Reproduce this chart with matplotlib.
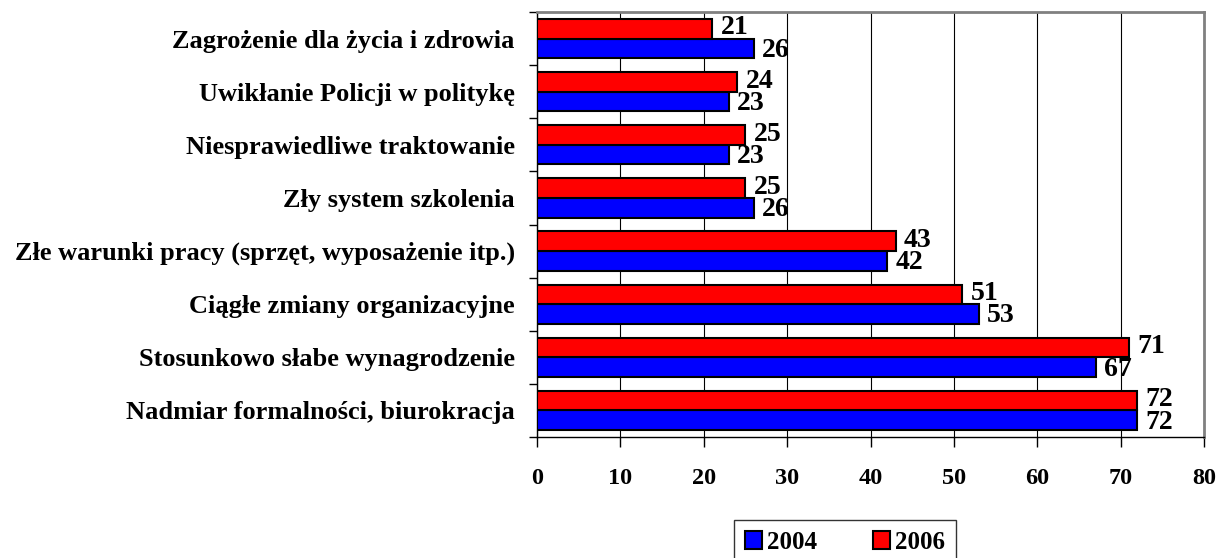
import matplotlib
matplotlib.use('Agg')
import matplotlib.pyplot as plt
import numpy as np

# categories from bottom to top
categories = ['Nadmiar formalności, biurokracja',
              'Stosunkowo słabe wynagrodzenie',
              'Ciągłe zmiany organizacyjne',
              'Złe warunki pracy (sprzęt, wyposażenie itp.)',
              'Zły system szkolenia',
              'Niesprawiedliwe traktowanie',
              'Uwikłanie Policji w politykę',
              'Zagrożenie dla życia i zdrowia']
vals_2004 = [72, 67, 53, 42, 26, 23, 23, 26]
vals_2006 = [72, 71, 51, 43, 25, 25, 24, 21]
x_ticks = [0, 10, 20, 30, 40, 50, 60, 70, 80]

plt.rcParams['font.family'] = ['Liberation Serif', 'DejaVu Serif']
plt.rcParams['font.weight'] = 'bold'

fig = plt.figure(figsize=(12.16, 5.58), dpi=100)
ax = fig.add_axes([537/1216, 1-437/558, (1204-537)/1216, (437-12)/558])

y = np.arange(len(categories))
h = 0.37
b1 = ax.barh(y - h/2, vals_2004, height=h, color='#0000ff', edgecolor='black',
             linewidth=1.5, label='2004', zorder=3)
b2 = ax.barh(y + h/2, vals_2006, height=h, color='#ff0000', edgecolor='black',
             linewidth=1.5, label='2006', zorder=3)

for i in y:
    ax.text(vals_2006[i] + 1.0, y[i] + 0.2, str(vals_2006[i]), fontsize=20,
            fontweight='bold', va='center', ha='left', zorder=4)
    ax.text(vals_2004[i] + 1.0, y[i] - 0.22, str(vals_2004[i]), fontsize=20,
            fontweight='bold', va='center', ha='left', zorder=4)

ax.set_xlim(0, 80)
ax.set_ylim(-0.5, len(categories) - 0.5)
ax.set_xticks(x_ticks)
ax.set_xticklabels([str(t) for t in x_ticks], fontsize=17.5, fontweight='bold')
ax.tick_params(axis='x', length=7, width=1, pad=15, direction='out')
ax.xaxis.grid(True, color='black', linewidth=0.8, zorder=0)

ax.set_yticks(y)
ax.set_yticklabels(categories, fontsize=19, fontweight='bold')
ax.tick_params(axis='y', length=0, pad=16)
ax.set_yticks(np.arange(len(categories) + 1) - 0.5, minor=True)
ax.tick_params(axis='y', which='minor', length=6, width=1)

for s in ['top', 'right']:
    ax.spines[s].set_color('#808080')
    ax.spines[s].set_linewidth(2)
for s in ['left', 'bottom']:
    ax.spines[s].set_color('black')
    ax.spines[s].set_linewidth(1)

leg = fig.legend(handles=[b1, b2], labels=['2004', '2006'], loc='lower center',
                 bbox_to_anchor=(845/1216, -0.035), ncol=2, frameon=True,
                 fancybox=False, edgecolor='black', fontsize=18,
                 handlelength=0.7, handleheight=0.7, handletextpad=0.2,
                 columnspacing=2.2, borderpad=0.45)
leg.get_frame().set_linewidth(1)

plt.savefig('out.png', dpi=100)
